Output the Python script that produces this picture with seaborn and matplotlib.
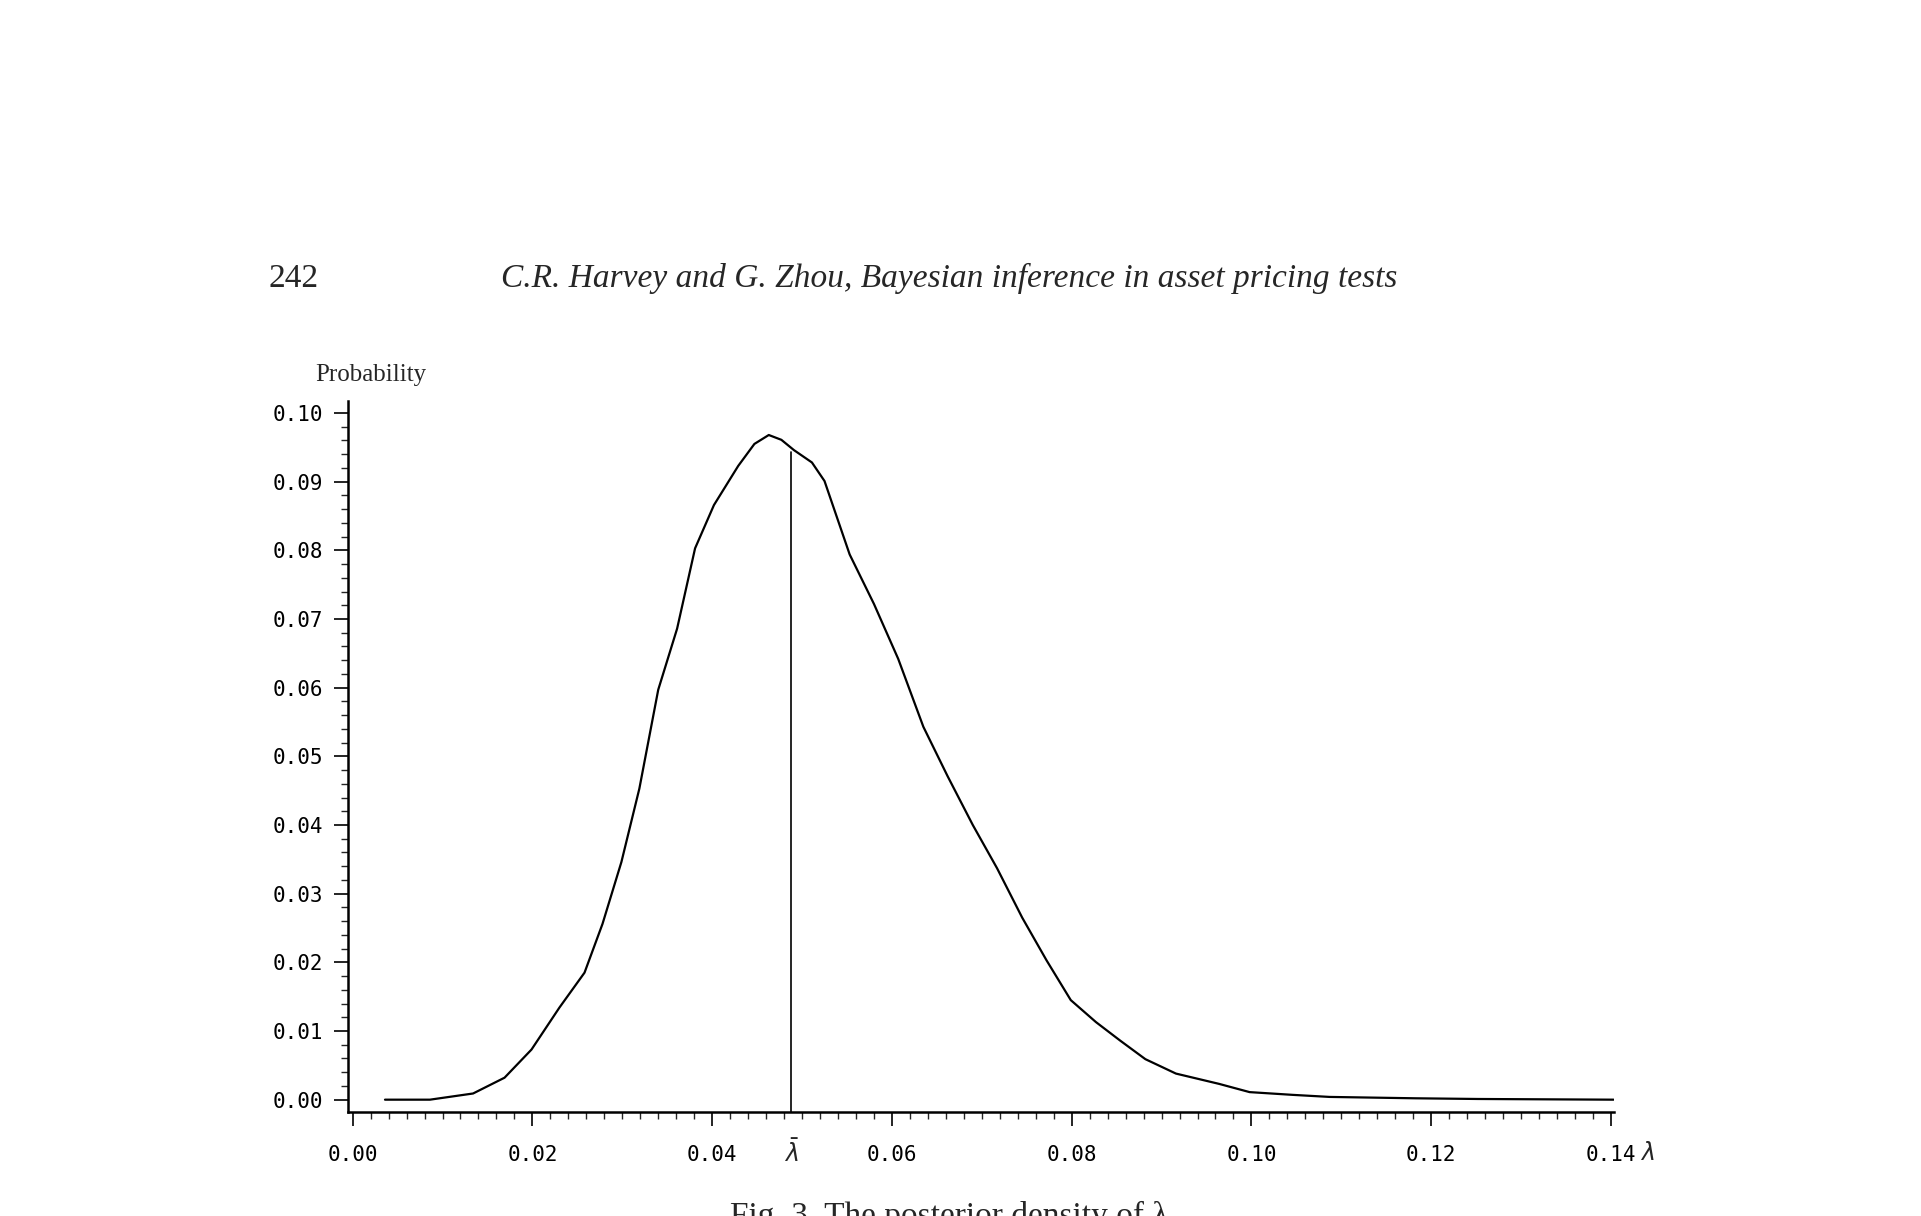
import matplotlib
matplotlib.use('Agg')
import matplotlib.pyplot as plt
import seaborn as sns
import pandas as pd
from matplotlib.ticker import MultipleLocator, FixedFormatter, FixedLocator

# posterior density of lambda
lam = [0.0036, 0.0086, 0.0134, 0.0169, 0.0199, 0.0230, 0.0258, 0.0278, 0.0299,
       0.0319, 0.0340, 0.0361, 0.0381, 0.0402, 0.0429, 0.0447, 0.0463, 0.0477,
       0.0491, 0.0511, 0.0525, 0.0553, 0.0580, 0.0607, 0.0635, 0.0662, 0.0690,
       0.0717, 0.0745, 0.0772, 0.0799, 0.0827, 0.0854, 0.0882, 0.0916, 0.0964,
       0.0998, 0.1046, 0.1087, 0.1183, 0.1252, 0.1403]
prob = [0.0, 0.0, 0.0009, 0.0032, 0.0073, 0.0134, 0.0185, 0.0256, 0.0346,
        0.0453, 0.0597, 0.0686, 0.0803, 0.0866, 0.0923, 0.0955, 0.0968, 0.0961,
        0.0946, 0.0928, 0.0901, 0.0794, 0.0722, 0.0642, 0.0543, 0.0471, 0.0400,
        0.0337, 0.0265, 0.0203, 0.0145, 0.0113, 0.0086, 0.0059, 0.0038, 0.0023,
        0.0011, 0.0007, 0.0004, 0.0002, 0.0001, 0.0]
lam_bar = 0.0488
lam_bar_height = 0.0943

x_ticks = [0.00, 0.02, 0.04, 0.06, 0.08, 0.10, 0.12, 0.14]
x_labels = ["0.00", "0.02", "0.04", "0.06", "0.08", "0.10", "0.12", "0.14"]
y_ticks = [0.00, 0.01, 0.02, 0.03, 0.04, 0.05, 0.06, 0.07, 0.08, 0.09, 0.10]
y_labels = ["0.00", "0.01", "0.02", "0.03", "0.04", "0.05", "0.06", "0.07", "0.08", "0.09", "0.10"]

sns.set_style("ticks")
mono = "DejaVu Sans Mono"

fig = plt.figure(figsize=(19.21, 12.16), dpi=100)
ax = fig.add_axes([0.181, 0.0855, 0.659, 0.585])

df = pd.DataFrame({"lam": lam, "prob": prob})
sns.lineplot(data=df, x="lam", y="prob", ax=ax, color="black", linewidth=1.6)
ax.plot([lam_bar, lam_bar], [-0.0018, lam_bar_height], color="black", linewidth=1.2)

ax.set_xlim(-0.00055, 0.1403)
ax.set_ylim(-0.0018, 0.1018)
ax.set_xlabel("")
ax.set_ylabel("")
for s in ["top", "right"]:
    ax.spines[s].set_visible(False)
for s in ["left", "bottom"]:
    ax.spines[s].set_linewidth(1.8)
    ax.spines[s].set_color("black")

ax.xaxis.set_major_locator(FixedLocator(x_ticks))
ax.xaxis.set_major_formatter(FixedFormatter(x_labels))
ax.xaxis.set_minor_locator(MultipleLocator(0.002))
ax.yaxis.set_major_locator(FixedLocator(y_ticks))
ax.yaxis.set_major_formatter(FixedFormatter(y_labels))
ax.yaxis.set_minor_locator(MultipleLocator(0.002))
ax.tick_params(axis="both", which="major", length=10, width=1.2, direction="out",
               labelsize=15, colors="black", pad=14)
ax.tick_params(axis="both", which="minor", length=5, width=1.0, direction="out")
ax.tick_params(axis="y", which="major", pad=8)
for lab in ax.get_xticklabels() + ax.get_yticklabels():
    lab.set_family(mono)

ax.text(lam_bar, -0.0078, r"$\bar{\lambda}$", ha="center", va="center", fontsize=17)
ax.text(0.1432, -0.0078, r"$\lambda$", ha="left", va="center", fontsize=17)

fig.text(0.164, 0.692, "Probability", fontsize=18, family="Liberation Serif", va="center")
fig.text(0.140, 0.771, "242", fontsize=24, family="Liberation Serif", va="center")
fig.text(0.494, 0.771, "C.R. Harvey and G. Zhou, Bayesian inference in asset pricing tests",
         fontsize=24, family="Liberation Serif", style="italic", ha="center", va="center")
fig.text(0.494, 0.0, "Fig. 3. The posterior density of λ", fontsize=24,
         family="Liberation Serif", ha="center", va="center")

fig.savefig("out.png", dpi=100)
